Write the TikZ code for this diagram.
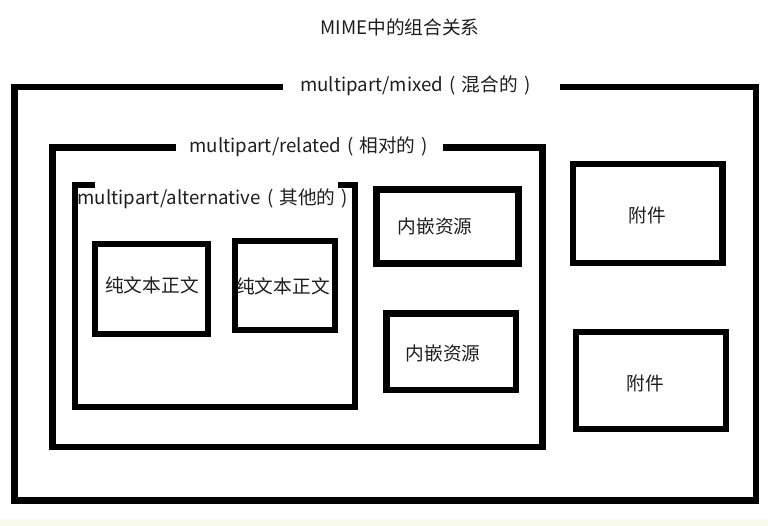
\documentclass[tikz,border=0pt]{standalone}
\usepackage{fontspec}
\setmainfont{Noto Sans CJK SC}
\newcommand{\lpar}{\makebox[1em]{(}}
\newcommand{\rpar}{\makebox[1em]{)}}
\definecolor{strip}{HTML}{F9FBEA}
\definecolor{ink}{HTML}{1E1E1E}
\begin{document}
\begin{tikzpicture}[x=1pt,y=-1pt,
  frame/.style={line width=6.5pt,miter limit=10,line join=miter},
  box/.style={draw,line width=6.5pt,inner sep=0pt},
  txt/.style={inner sep=0pt,text=ink,font=\fontsize{18.67}{22}\selectfont}]
\useasboundingbox (0,0) rectangle (768,526);
\fill[white] (0,0) rectangle (768,519);
\fill[strip] (0,519) rectangle (768,526);
% title
\node[txt] (title) at (400,27) {MIME中的组合关系};
% outer mixed frame
\coordinate (mxa) at (283,87);
\coordinate (mxb) at (560,87);
\draw[frame] (mxa) -- (14.5,87) -- (14.5,500.5) -- (756,500.5) -- (756,87) -- (mxb);
\node[txt,anchor=west] (mixed) at (300,85.5) {multipart/mixed\lpar 混合的\rpar};
% related frame
\coordinate (rla) at (175.5,147.5);
\coordinate (rlb) at (443,147.5);
\draw[frame] (rla) -- (52.5,147.5) -- (52.5,447) -- (542.5,447) -- (542.5,147.5) -- (rlb);
\node[txt,anchor=west] (related) at (189.5,146.5) {multipart/related\lpar 相对的\rpar};
% alternative frame
\coordinate (ala) at (95,185);
\coordinate (alb) at (338,185);
\draw[frame,line width=6pt] (ala) -- (74.5,185) -- (74.5,406.5) -- (354.5,406.5) -- (354.5,185) -- (alb);
\node[txt,anchor=west] (alt) at (77.5,198.5) {multipart/alternative\lpar 其他的\rpar};
% plain text boxes
\node[box,minimum width=113pt,minimum height=90pt] (p1) at (151.5,289) {};
\node[txt] (p1t) at (152,285.5) {纯文本正文};
\node[box,minimum width=100pt,minimum height=89pt] (p2) at (285,285.5) {};
\node[txt] (p2t) at (283,286.5) {纯文本正文};
% inline resources
\node[box,minimum width=142pt,minimum height=74pt] (r1) at (447.5,226.5) {};
\node[txt] (r1t) at (435,226) {内嵌资源};
\node[box,minimum width=129.5pt,minimum height=76.5pt] (r2) at (451.25,351.75) {};
\node[txt] (r2t) at (443,353) {内嵌资源};
% attachments
\node[box,minimum width=149.5pt,minimum height=99pt] (a1) at (647.75,213.5) {};
\node[txt] (a1t) at (647,215) {附件};
\node[box,minimum width=150pt,minimum height=97pt] (a2) at (651,380.5) {};
\node[txt] (a2t) at (645,383) {附件};
\end{tikzpicture}
\end{document}
